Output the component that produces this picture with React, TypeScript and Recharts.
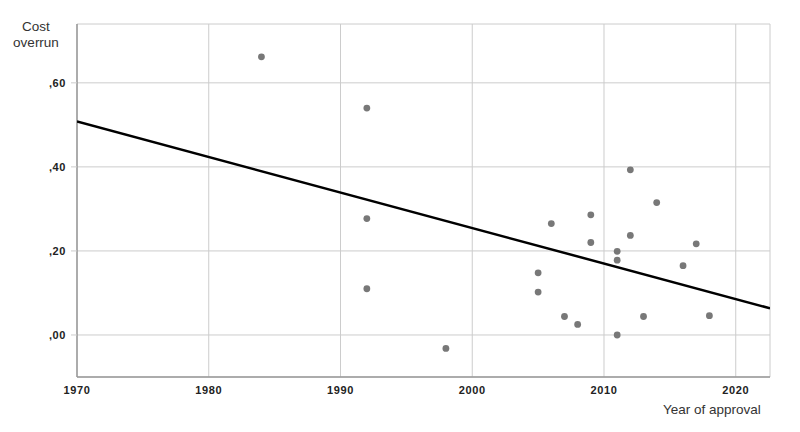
import { ComposedChart, Scatter, XAxis, YAxis, CartesianGrid } from "recharts";

// year of approval / cost overrun
const years = [1984, 1992, 1992, 1992, 1998, 2005, 2005, 2006, 2007, 2008, 2009, 2009, 2011, 2011, 2011, 2012, 2012, 2013, 2014, 2016, 2017, 2018];
const overruns = [0.662, 0.54, 0.277, 0.11, -0.032, 0.148, 0.102, 0.265, 0.044, 0.025, 0.286, 0.22, 0.199, 0.178, 0.0, 0.393, 0.237, 0.044, 0.315, 0.165, 0.217, 0.046];

// fitted line endpoints
const fitYears = [1970, 2022.6];
const fitValues = [0.508, 0.0635];

const xTicks = [1970, 1980, 1990, 2000, 2010, 2020];
const yTicks = [0, 0.2, 0.4, 0.6];

const points = years.map((year, i) => ({ year, overrun: overruns[i] }));
const fitLine = fitYears.map((year, i) => ({ year, overrun: fitValues[i] }));

const fmtY = (v: number) => "," + Math.round(Math.abs(v) * 100).toString().padStart(2, "0");

const tickStyle = { fontFamily: "Liberation Sans, Arial, sans-serif", fontSize: 11, fontWeight: 700, fill: "#222", letterSpacing: 0.6 };
const labelStyle: React.CSSProperties = {
  position: "absolute",
  fontFamily: "Liberation Sans, Arial, sans-serif",
  fontSize: 13.5,
  color: "#333",
  lineHeight: "16px",
};

export default function App() {
  return (
    <div style={{ position: "absolute", left: 0, top: 0, width: 800, height: 432, background: "#fff" }}>
      <ComposedChart width={800} height={432} margin={{ top: 24, right: 30, left: 0, bottom: 0 }}>
        <CartesianGrid stroke="#cccccc" strokeWidth={1} />
        <XAxis
          type="number"
          dataKey="year"
          domain={[1970, 2022.6]}
          ticks={xTicks}
          allowDataOverflow
          height={55}
          tickLine={false}
          tickMargin={3}
          axisLine={{ stroke: "#999", strokeWidth: 1.5 }}
          tick={tickStyle}
        />
        <YAxis
          type="number"
          dataKey="overrun"
          domain={[-0.1, 0.74]}
          ticks={yTicks}
          allowDataOverflow
          width={77}
          tickSize={6}
          tickMargin={5}
          tickLine={{ stroke: "#cccccc" }}
          axisLine={{ stroke: "#999", strokeWidth: 1.5 }}
          tick={tickStyle}
          tickFormatter={fmtY}
        />
        <Scatter
          data={fitLine}
          line={{ stroke: "#000", strokeWidth: 2.5 }}
          shape={() => null}
          isAnimationActive={false}
        />
        <Scatter
          data={points}
          fill="#787878"
          shape={(p: any) => <circle cx={p.cx} cy={p.cy} r={3.4} fill="#787878" />}
          isAnimationActive={false}
        />
      </ComposedChart>
      <div style={{ ...labelStyle, left: 0, width: 72, top: 19, textAlign: "center" }}>
        Cost
        <br />
        overrun
      </div>
      <div style={{ ...labelStyle, left: 663, top: 402 }}>Year of approval</div>
    </div>
  );
}
